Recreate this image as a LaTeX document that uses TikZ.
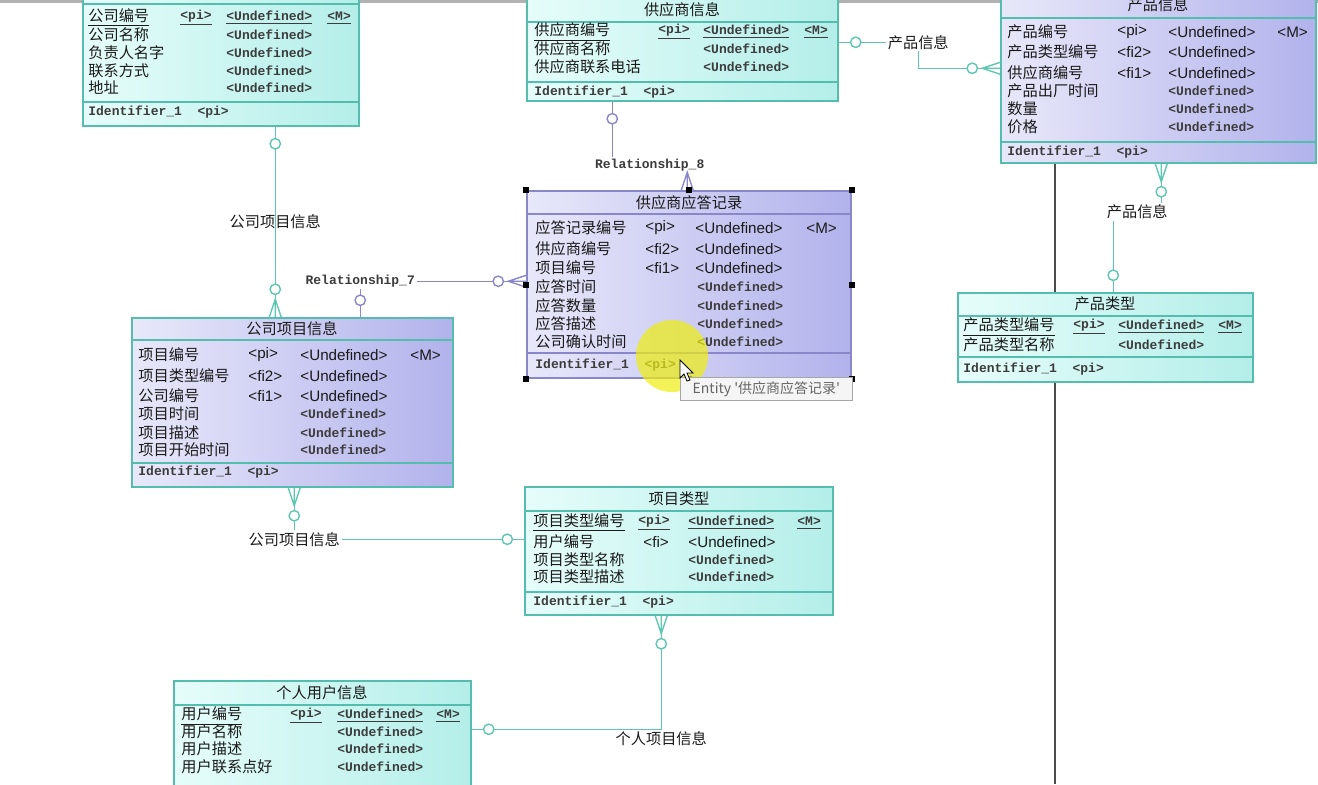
\documentclass[tikz,border=0pt]{standalone}
\usepackage{fontspec}
\setmainfont{Liberation Sans}
\newfontfamily\cjk{Noto Sans CJK SC}
\newfontfamily\bmp{Liberation Mono}
\usepackage{tikz}
\usetikzlibrary{calc,fit}
\definecolor{txt}{HTML}{1A1A1A}
\definecolor{cyl}{HTML}{E6FDFA}
\definecolor{cyd}{HTML}{B4EEE9}
\definecolor{lvl}{HTML}{E8E8FA}
\definecolor{lvd}{HTML}{B2B2EC}
\definecolor{frame}{HTML}{55BDAE}
\definecolor{tealc}{HTML}{5EC7B2}
\definecolor{purp}{HTML}{8A86CA}
\definecolor{hl}{HTML}{EEEE10}
\tikzset{
  ent/.style={draw=frame, line width=0.75pt, inner sep=0, fit={#1}},
  entc/.style={ent={#1}, left color=cyl, right color=cyd},
  entp/.style={ent={#1}, left color=lvl, right color=lvd},
  rline/.style={draw=frame, line width=0.75pt},
  nm/.style={font=\cjk\fontsize{7.6}{9}\selectfont, text=txt, anchor=west, inner sep=0},
  ttl/.style={nm, anchor=center},
  sv/.style={font=\fontsize{7.6}{9}\selectfont, text=txt, anchor=west, inner sep=0},
  bm/.style={font=\bmp\bfseries\fontsize{6.5}{9}\selectfont, text=txt!85, anchor=west, inner sep=0},
  tl/.style={draw=tealc, line width=0.7pt},
  pl/.style={draw=purp, line width=0.7pt},
  lab/.style={font=\cjk\fontsize{7.6}{9}\selectfont, text=txt, inner sep=1pt},
  rlab/.style={font=\bmp\bfseries\fontsize{6.5}{9}\selectfont, text=txt!85, inner sep=1pt},
  hnd/.style={fill=black, minimum size=3pt, inner sep=0},
  tip/.style={draw=black!35, fill=black!4, font=\cjk\fontsize{7}{8}\selectfont, text=black!60,
    anchor=north west, minimum width=86pt, minimum height=11pt, inner sep=2pt, align=left},
  crow/.pic={\draw[pic actions] (-6,0) -- (0,-18) -- (6,0) (0,-18) -- (0,0);},
  many/.pic={
    \draw[pic actions] (-6,0) -- (0,-18) -- (6,0) (0,-18) -- (0,0);
    \draw[pic actions, fill=white] (0,-28) circle (2.6pt);
  },
  one/.pic={\draw[pic actions, fill=white] (0,-17) circle (2.6pt);},
}

\begin{document}
\begin{tikzpicture}[x=0.5pt, y=-0.5pt]
  \path[use as bounding box] (0,0) rectangle (1318,784);
  \clip (0,0) rectangle (1318,784);
  \fill[white] (0,0) rectangle (1318,784);
  \fill[black!30] (0,0) rectangle (1318,3);
  % page edge
  \draw[line width=1pt, black!70] (1055,163) -- (1055,784);

  % company (title off screen)
  \node[entc={(83,-20) (359,126)}] (company) {};
  \draw[rline] (83,4) -- (359,4) (83,102) -- (359,102);
  \node[nm] (co1) at (88,18) {\underline{公司编号}};
  \node[bm] (co1k) at (180,18) {\underline{<pi>}};
  \node[bm] (co1u) at (226,18) {\underline{<Undefined>}};
  \node[bm] (co1m) at (327,18) {\underline{<M>}};
  \foreach \y/\n in {35/公司名称,53/负责人名字,71/联系方式,88/地址}{
    \node[nm] (co-n\y) at (88,\y) {\n};
    \node[bm] (co-u\y) at (226,\y) {<Undefined>};
  }
  \node[bm] (coid) at (88,112) {Identifier\_1\ \ <pi>};

  % supplier
  \node[entc={(527,-5) (838,101)}] (supplier) {};
  \draw[rline] (527,22) -- (838,22) (527,82) -- (838,82);
  \node[ttl] (sut) at (682,10) {供应商信息};
  \node[nm] (su1) at (534,32) {\underline{供应商编号}};
  \node[bm] (su1k) at (658,32) {\underline{<pi>}};
  \node[bm] (su1u) at (703,32) {\underline{<Undefined>}};
  \node[bm] (su1m) at (804,32) {\underline{<M>}};
  \foreach \y/\n in {49/供应商名称,67/供应商联系电话}{
    \node[nm] (su-n\y) at (534,\y) {\n};
    \node[bm] (su-u\y) at (703,\y) {<Undefined>};
  }
  \node[bm] (suid) at (534,92) {Identifier\_1\ \ <pi>};

  % product
  \node[entp={(1001,-5) (1316,163)}] (product) {};
  \draw[rline] (1001,18) -- (1316,18) (1001,142) -- (1316,142);
  \node[ttl] (prt) at (1158,5) {产品信息};
  \foreach \y/\n/\k in {32/产品编号/<pi>,52/产品类型编号/<fi2>,73/供应商编号/<fi1>}{
    \node[nm] (pr-n\y) at (1007,\y) {\n};
    \node[sv] (pr-k\y) at (1117,\y) {\k};
    \node[sv] (pr-u\y) at (1168,\y) {<Undefined>};
  }
  \node[sv] (prm) at (1277,32) {<M>};
  \foreach \y/\n in {91/产品出厂时间,109/数量,127/价格}{
    \node[nm] (pr-n\y) at (1007,\y) {\n};
    \node[bm] (pr-u\y) at (1168,\y) {<Undefined>};
  }
  \node[bm] (prid) at (1007,152) {Identifier\_1\ \ <pi>};

  % reply (selected)
  \node[entp={(527,191) (851,378)}, draw=purp] (reply) {};
  \draw[pl, line width=0.75pt] (527,214) -- (851,214) (527,353) -- (851,353);
  \node[ttl] (ret) at (689,203) {供应商应答记录};
  \foreach \y/\n/\k in {228/应答记录编号/<pi>,249/供应商编号/<fi2>,268/项目编号/<fi1>}{
    \node[nm] (re-n\y) at (535,\y) {\n};
    \node[sv] (re-k\y) at (645,\y) {\k};
    \node[sv] (re-u\y) at (695,\y) {<Undefined>};
  }
  \node[sv] (rem) at (806,228) {<M>};
  \foreach \y/\n in {287/应答时间,306/应答数量,324/应答描述,342/公司确认时间}{
    \node[nm] (re-n\y) at (535,\y) {\n};
    \node[bm] (re-u\y) at (697,\y) {<Undefined>};
  }
  \node[bm] (reid) at (535,365) {Identifier\_1\ \ <pi>};

  % project
  \node[entp={(132,318) (453,487)}] (project) {};
  \draw[rline] (132,340) -- (453,340) (132,463) -- (453,463);
  \node[ttl] (pjt) at (292,329) {公司项目信息};
  \foreach \y/\n/\k in {355/项目编号/<pi>,376/项目类型编号/<fi2>,396/公司编号/<fi1>}{
    \node[nm] (pj-n\y) at (138,\y) {\n};
    \node[sv] (pj-k\y) at (248,\y) {\k};
    \node[sv] (pj-u\y) at (300,\y) {<Undefined>};
  }
  \node[sv] (pjm) at (410,355) {<M>};
  \foreach \y/\n in {414/项目时间,433/项目描述,450/项目开始时间}{
    \node[nm] (pj-n\y) at (138,\y) {\n};
    \node[bm] (pj-u\y) at (300,\y) {<Undefined>};
  }
  \node[bm] (pjid) at (138,472) {Identifier\_1\ \ <pi>};

  % product type
  \node[entc={(958,293) (1253,382)}] (ptype) {};
  \draw[rline] (958,316) -- (1253,316) (958,357) -- (1253,357);
  \node[ttl] (ptt) at (1105,304) {产品类型};
  \node[nm] (pt1) at (963,327) {\underline{产品类型编号}};
  \node[bm] (pt1k) at (1073,327) {\underline{<pi>}};
  \node[bm] (pt1u) at (1118,327) {\underline{<Undefined>}};
  \node[bm] (pt1m) at (1218,327) {\underline{<M>}};
  \node[nm] (pt2) at (963,345) {产品类型名称};
  \node[bm] (pt2u) at (1118,345) {<Undefined>};
  \node[bm] (ptid) at (963,369) {Identifier\_1\ \ <pi>};

  % project type
  \node[entc={(525,487) (833,615)}] (itype) {};
  \draw[rline] (525,511) -- (833,511) (525,592) -- (833,592);
  \node[ttl] (itt) at (679,499) {项目类型};
  \node[nm] (it1) at (533,523) {\underline{项目类型编号}};
  \node[bm] (it1k) at (638,523) {\underline{<pi>}};
  \node[bm] (it1u) at (688,523) {\underline{<Undefined>}};
  \node[bm] (it1m) at (797,523) {\underline{<M>}};
  \node[nm] (it2) at (533,542) {用户编号};
  \node[sv] (it2k) at (643,542) {<fi>};
  \node[sv] (it2u) at (688,542) {<Undefined>};
  \foreach \y/\n in {560/项目类型名称,577/项目类型描述}{
    \node[nm] (it-n\y) at (533,\y) {\n};
    \node[bm] (it-u\y) at (688,\y) {<Undefined>};
  }
  \node[bm] (itid) at (533,602) {Identifier\_1\ \ <pi>};

  % user
  \node[entc={(174,681) (471,800)}] (user) {};
  \draw[rline] (174,705) -- (471,705);
  \node[ttl] (ust) at (322,693) {个人用户信息};
  \node[nm] (us1) at (181,716) {\underline{用户编号}};
  \node[bm] (us1k) at (290,716) {\underline{<pi>}};
  \node[bm] (us1u) at (337,716) {\underline{<Undefined>}};
  \node[bm] (us1m) at (436,716) {\underline{<M>}};
  \foreach \y/\n in {732/用户名称,749/用户描述,767/用户联系点好}{
    \node[nm] (us-n\y) at (181,\y) {\n};
    \node[bm] (us-u\y) at (337,\y) {<Undefined>};
  }

  % connector ends
  \coordinate (a1) at ($(company.south west)+(193,0)$);
  \coordinate (a2) at ($(project.north west)+(144,0)$);
  \coordinate (b1) at ($(project.south west)+(163,0)$);
  \coordinate (b2) at ($(itype.north west)+(0,53)$);
  \coordinate (c1) at ($(itype.south west)+(137,0)$);
  \coordinate (c2) at ($(user.north east)+(0,49)$);
  \coordinate (d1) at ($(supplier.south west)+(86,0)$);
  \coordinate (d2) at ($(reply.north west)+(161,0)$);
  \coordinate (e1) at ($(project.north west)+(229,0)$);
  \coordinate (e2) at ($(reply.north west)+(0,91)$);
  \coordinate (f1) at ($(supplier.north east)+(0,48)$);
  \coordinate (f2) at ($(product.north west)+(0,74)$);
  \coordinate (g1) at ($(product.south west)+(161,0)$);
  \coordinate (g2) at ($(ptype.north west)+(156,0)$);

  \draw[tl] (a1) -- node[lab] (la) {公司项目信息} (a2);
  \draw[tl] (b1) |- node[lab, fill=white] (lb) {公司项目信息} (b2);
  \draw[tl] (c1) |- node[lab, below] (lc) {个人项目信息} (c2);
  \draw[pl] (d1) |- node[rlab, fill=white, pos=.75] (r8) {Relationship\_8} ($(d2)+(0,-25)$) -- (d2);
  \draw[pl] (e1) |- node[rlab, fill=white] (r7) {Relationship\_7} (e2);
  \draw[tl] (f1) -| node[lab, fill=white] (lf) {产品信息} ($(f2)+(-82,0)$) -- (f2);
  \draw[tl] (g1) -- ++(0,48) -| node[lab, fill=white, pos=.25] (lg) {产品信息} (g2);

  % cardinality marks
  \path (a1) pic[tl, rotate=180] {one} (a2) pic[tl] {many};
  \path (b1) pic[tl, rotate=180] {many} (b2) pic[tl, rotate=90] {one};
  \path (c1) pic[tl, rotate=180] {many} (c2) pic[tl, rotate=-90] {one};
  \path (d1) pic[pl, rotate=180] {one} (d2) pic[pl] {crow};
  \path (e1) pic[pl] {one} (e2) pic[pl, rotate=90] {many};
  \path (f1) pic[tl, rotate=-90] {one} (f2) pic[tl, rotate=90] {many};
  \path (g1) pic[tl, rotate=180] {many} (g2) pic[tl] {one};

  % selection handles
  \foreach \p in {north west,north,north east,west,east,south west,south,south east}
    \node[hnd] (h-\p) at (reply.\p) {};

  % pointer highlight, tooltip, cursor
  \fill[hl, opacity=.7] (672,356) circle (18pt);
  \node[tip] (tooltip) at (680,377) {Entity '供应商应答记录'};
  \filldraw[fill=white, draw=black, line width=0.4pt] (680,360) -- (680,378) -- (684,374)
    -- (687,381) -- (690,380) -- (687,373) -- (693,373) -- cycle;
\end{tikzpicture}
\end{document}
